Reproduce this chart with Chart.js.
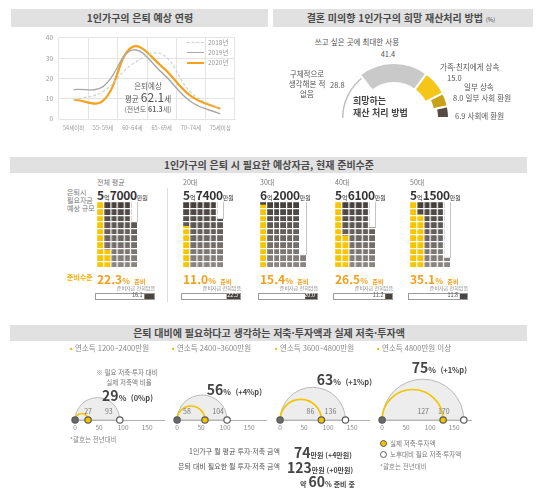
<!DOCTYPE html>
<html lang="ko">
<head>
<meta charset="utf-8">
<script src="https://cdn.jsdelivr.net/npm/chart.js@4.4.1/dist/chart.umd.min.js"></script>
<style>
  html, body { margin: 0; padding: 0; background: #fff; }
  #page { position: relative; width: 540px; height: 488px; overflow: hidden; font-family: 'Noto Sans CJK KR', 'Noto Sans', sans-serif; color: #555; }
  .t { position: absolute; line-height: 1; white-space: nowrap; }
  .w { position: absolute; }
  canvas { display: block; }
</style>
</head>
<body>
<div id="page"></div>
<script>
// 1인가구의 은퇴 예상 연령
const ageLabels = ['54세이하', '55~59세', '60~64세', '65~69세', '70~74세', '75세이상'];
const retire2018 = [9.5, 13.5, 27, 32, 13, 5];
const retire2019 = [14.5, 16, 34, 23, 8.5, 2.5];
const retire2020 = [9.5, 9, 35.5, 26, 11.3, 5];
const retireAvg = 62.1;
const retireAvgPrev = 61.3;

// 희망 재산처리 방법 (%)
const assetLabels = ['구체적으로 생각해본 적 없음', '쓰고 싶은 곳에 최대한 사용', '가족·친지에게 상속', '일부 상속 일부 사회 환원', '사회에 환원'];
const assetShare = [28.8, 41.4, 15.0, 8.0, 6.9];

// 은퇴 시 필요 예상자금 (만원), 준비수준 (%), 준비자금 전혀없음 (%)
const fundGroups = ['전체 평균', '20대', '30대', '40대', '50대'];
const fundNeed = [57000, 57400, 62000, 56100, 51500];
const fundReady = [22.3, 11.0, 15.4, 26.5, 35.1];
const fundNone = [16.1, 22.5, 20.0, 11.2, 11.8];

// 필요 저축·투자액 vs 실제 저축·투자액 (만원)
const incomeGroups = ['연소득 1200~2400만원', '연소득 2400~3600만원', '연소득 3600~4800만원', '연소득 4800만원 이상'];
const savingActual = [27, 58, 86, 127];
const savingNeed = [93, 104, 136, 170];
const savingTicks = [0, 50, 100, 150];
const savingRatio = [29, 56, 63, 75];
const ratioChange = ['0%p', '+4%p', '+1%p', '+1%p'];
const monthlySave = 74, monthlySaveChg = '+4';
const monthlyNeed = 123, monthlyNeedChg = '+0';
const readyShare = 60;

Chart.defaults.font.family = "'Noto Sans CJK KR', 'Noto Sans', sans-serif";
Chart.defaults.animation = false;
Chart.defaults.responsive = true;
Chart.defaults.maintainAspectRatio = false;
Chart.defaults.plugins.legend.display = false;
Chart.defaults.plugins.tooltip.enabled = false;

const page = document.getElementById('page');

function put(html, x, y, css, align) {
  const d = document.createElement('div');
  d.className = 't';
  d.innerHTML = html;
  d.style.cssText = `left:${x}px;top:${y}px;` + (css || '');
  const tx = align === 'c' ? '-50%' : align === 'r' ? '-100%' : '0';
  d.style.transform = `translate(${tx},-50%)`;
  page.appendChild(d);
  return d;
}
function box(x, y, w, h, css) {
  const d = document.createElement('div');
  d.className = 'w';
  d.style.cssText = `left:${x}px;top:${y}px;width:${w}px;height:${h}px;` + (css || '');
  page.appendChild(d);
  return d;
}
function makeCanvas(x, y, w, h, css) {
  const wrap = box(x, y, w, h, css);
  const c = document.createElement('canvas');
  wrap.appendChild(c);
  return c;
}

// header bars
const titleCss = 'font-size:10px;font-weight:bold;color:#4a4a4a;';
box(11, 9, 257, 18, 'background:#e1e1e1');
put('1인가구의 은퇴 예상 연령', 140, 18, titleCss, 'c');
box(273, 9, 260, 18, 'background:#e1e1e1');
put('결혼 미의향 1인가구의 희망 재산처리 방법 <span style="font-size:6px;font-weight:normal">(%)</span>', 401, 18, titleCss, 'c');
box(10, 157, 517, 16, 'background:#e1e1e1');
put('1인가구의 은퇴 시 필요한 예상자금, 현재 준비수준', 269, 165, titleCss, 'c');
box(10, 325, 517, 16, 'background:#e1e1e1');
put('은퇴 대비에 필요하다고 생각하는 저축·투자액과 실제 저축·투자액', 269, 333, titleCss, 'c');

// ---- line chart ----
new Chart(makeCanvas(30, 28, 210, 111), {
  type: 'line',
  data: {
    labels: ageLabels,
    datasets: [
      { label: '2018년', data: retire2018, borderColor: '#d0d0d0', borderDash: [3, 2], borderWidth: 1.2 },
      { label: '2019년', data: retire2019, borderColor: '#a8a8a8', borderWidth: 1.4 },
      { label: '2020년', data: retire2020, borderColor: '#f5a11c', borderWidth: 2.2 }
    ]
  },
  options: {
    layout: { padding: { top: 5, right: 5 } },
    elements: { point: { radius: 0 }, line: { tension: 0.4 } },
    scales: {
      x: {
        offset: true,
        grid: { offset: true, color: '#e4e4e4', drawTicks: false },
        border: { color: '#e4e4e4' },
        ticks: { color: '#999', font: { size: 5.5 }, padding: 6, maxRotation: 0, autoSkip: false },
        afterFit: s => { s.height = 20; }
      },
      y: {
        min: 0, max: 40,
        ticks: { stepSize: 10, color: '#999', font: { size: 6.5 }, padding: 6 },
        grid: { color: '#e4e4e4', drawTicks: false },
        border: { display: false },
        afterFit: s => { s.width = 29; }
      }
    }
  }
});
// legend
const legendCss = 'font-size:6.5px;color:#999;';
box(187, 42, 17, 0, 'border-top:1.2px dashed #cfcfcf');
put('2018년', 208, 42, legendCss);
box(187, 52, 17, 0, 'border-top:1.4px solid #a8a8a8');
put('2019년', 208, 52, legendCss);
box(187, 62, 17, 0, 'border-top:2px solid #f5a11c');
put('2020년', 208, 62, legendCss);
put('은퇴예상', 148, 86, 'font-size:7.5px;color:#666;', 'c');
put(`평균 <span style="font-size:12px">${retireAvg}</span>세`, 148, 97, 'font-size:7.5px;color:#555;', 'c');
put(`(전년도 <b>${retireAvgPrev}</b>세)`, 148, 109, 'font-size:7px;color:#666;', 'c');

// ---- half doughnut ----
const sliceThick = [1.4, 20, 20, 15, 12];
const sliceInset = [3, 0, 0, 0, 0];
const ringPlugin = {
  id: 'ring',
  beforeDatasetsDraw(chart) {
    const meta = chart.getDatasetMeta(0);
    const R = meta.controller.outerRadius;
    meta.data.forEach((arc, j) => {
      arc.outerRadius = R - sliceInset[j];
      arc.innerRadius = R - sliceInset[j] - sliceThick[j];
    });
  }
};
new Chart(makeCanvas(338, 62, 112, 57), {
  type: 'doughnut',
  data: {
    labels: assetLabels,
    datasets: [{
      data: assetShare,
      backgroundColor: ['#bdbdbd', '#c9c9c9', '#f5c518', '#c9a116', '#574c44'],
      borderColor: '#fff',
      borderWidth: [0, 2, 2, 2, 2]
    }]
  },
  options: { rotation: -90, circumference: 180 },
  plugins: [ringPlugin]
});
const dLab = 'font-size:7.5px;color:#555;';
put(assetLabels[1], 357, 42, dLab, 'c');
put(assetShare[1].toFixed(1), 388, 54, dLab, 'c');
put('구체적으로', 307, 74, dLab, 'c');
put('생각해본 적', 307, 84, dLab, 'c');
put('없음', 307, 94, dLab, 'c');
put(assetShare[0].toFixed(1), 330, 85, dLab);
put(assetLabels[2], 440, 67, dLab);
put(assetShare[2].toFixed(1), 447, 78, dLab);
put('일부 상속', 464, 87, dLab);
put(assetShare[3].toFixed(1) + ' 일부 사회 환원', 453, 98, dLab);
put(assetShare[4].toFixed(1) + ' ' + assetLabels[4], 455, 116, dLab);
put('희망하는', 353, 100, 'font-size:9px;font-weight:bold;color:#444;');
put('재산 처리 방법', 353, 112, 'font-size:9px;font-weight:bold;color:#444;');

// ---- waffles ----
const groupLeft = [97, 183, 260, 335, 410];
const sq = 6.6;
const gridTop = 202;
put('은퇴시', 67, 192, 'font-size:7px;color:#777;');
put('필요자금', 67, 200, 'font-size:7px;color:#777;');
put('예상 규모', 67, 208, 'font-size:7px;color:#777;');
put('준비수준', 67, 277, 'font-size:7px;color:#f2b400;font-weight:bold;');
box(167, 188, 0, 114, 'border-left:1px solid #ddd');

function darkFill(context) {
  const { ctx, chartArea } = context.chart;
  if (!chartArea) return '#5a544f';
  const g = ctx.createLinearGradient(0, chartArea.top, 0, chartArea.bottom);
  g.addColorStop(0, '#433d39');
  g.addColorStop(1, '#8e8985');
  return g;
}

fundGroups.forEach((name, i) => {
  const left = groupLeft[i];
  const total = fundNeed[i] / 1000;
  const ready = total * fundReady[i] / 100;
  const cols = Math.ceil(total / 10);
  const colLabels = [], yellowCol = [], darkCol = [];
  for (let c = 0; c < cols; c++) {
    const full = Math.min(Math.max(total - c * 10, 0), 10);
    const y = Math.min(Math.max(ready - c * 10, 0), 10);
    colLabels.push(String(c + 1));
    yellowCol.push(y);
    darkCol.push(full - y);
  }
  put(name, left, 182, 'font-size:7px;color:#777;');
  const eok = Math.floor(fundNeed[i] / 10000);
  const rest = fundNeed[i] % 10000;
  put(`<b style="font-size:12px">${eok}</b><span style="font-size:6px">억</span><b style="font-size:12px;letter-spacing:-0.3px">${rest}</b><span style="font-size:6px">만원</span>`, left, 193, 'color:#333;');

  new Chart(makeCanvas(left, gridTop, cols * sq, 10 * sq), {
    type: 'bar',
    data: {
      labels: colLabels,
      datasets: [
        { data: yellowCol, backgroundColor: '#f7c600' },
        { data: darkCol, backgroundColor: darkFill }
      ]
    },
    options: {
      barPercentage: 1, categoryPercentage: 1,
      scales: {
        x: {
          stacked: true,
          grid: { offset: true, color: '#fff', lineWidth: 1.2, z: 1, drawTicks: false },
          border: { display: false }, ticks: { display: false },
          afterFit: s => { s.height = 0; }
        },
        y: {
          stacked: true, min: 0, max: 10,
          grid: { color: '#fff', lineWidth: 1.2, z: 1, drawTicks: false },
          border: { display: false }, ticks: { display: false, stepSize: 1 },
          afterFit: s => { s.width = 0; }
        }
      }
    }
  });
  if (cols * 10 - total >= 2) {
    const emptyTop = gridTop + 10 * sq - (total - (cols - 1) * 10) * sq;
    box(left + cols * sq, gridTop, 0, emptyTop - gridTop, 'border-left:1px solid #c4c4c4');
  }

  put(`<b style="font-size:12px">${fundReady[i].toFixed(1)}</b><b style="font-size:8px">%</b> <b style="font-size:6px">준비</b>`, left, 277, 'color:#f49e1b;');
  put('준비자금 전혀없음', left + 58, 287, 'font-size:5px;color:#888;', 'r');
  const bw = box(left - 2, 293, 58, 5, 'border:1px solid #9a9a9a');
  const c = document.createElement('canvas');
  bw.appendChild(c);
  new Chart(c, {
    type: 'bar',
    data: { labels: [''], datasets: [{ data: [fundNone[i]], backgroundColor: '#4a4440' }] },
    options: {
      indexAxis: 'y', barPercentage: 1, categoryPercentage: 1,
      scales: { x: { min: 0, max: 100, reverse: true, display: false }, y: { display: false } }
    }
  });
  const darkW = 58 * fundNone[i] / 100;
  if (fundNone[i] >= 20) {
    put(fundNone[i].toFixed(1), left + 55, 296, 'font-size:5.5px;color:#fff;', 'r');
  } else {
    put(fundNone[i].toFixed(1), left + 56 - darkW - 1, 296, 'font-size:5.5px;color:#555;', 'r');
  }
});

// ---- saving half circles ----
const halfOrigin = [70, 172, 275, 377];
const k = 0.535;
const halfLabelShift = [[0, -11], [-18, -9], [-11, -15], [-20, -20]];
const ratioPos = [[153, 394], [262, 388], [372, 378], [467, 366]];
const halfPlugin = {
  id: 'halves',
  beforeDatasetsDraw(chart, args, opts) {
    const { ctx, scales: { x, y } } = chart;
    const i = opts.idx;
    const y0 = y.getPixelForValue(0);
    const x0 = x.getPixelForValue(0);
    const xn = x.getPixelForValue(savingNeed[i]);
    const xa = x.getPixelForValue(savingActual[i]);
    ctx.save();
    ctx.beginPath();
    ctx.arc((x0 + xn) / 2, y0, (xn - x0) / 2, Math.PI, 0);
    ctx.closePath();
    ctx.fillStyle = '#ededed';
    ctx.fill();
    ctx.strokeStyle = '#b9b9b9';
    ctx.lineWidth = 1;
    ctx.stroke();
    ctx.beginPath();
    ctx.arc((x0 + xa) / 2, y0, (xa - x0) / 2, Math.PI, 0);
    ctx.strokeStyle = '#f3c400';
    ctx.lineWidth = 1.6;
    ctx.stroke();
    ctx.fillStyle = '#777';
    ctx.font = "7px 'Noto Sans CJK KR'";
    ctx.textAlign = 'center';
    ctx.textBaseline = 'middle';
    ctx.fillText(String(savingActual[i]), xa + halfLabelShift[i][0], y0 - 9);
    ctx.fillText(String(savingNeed[i]), xn + halfLabelShift[i][1], y0 - 9);
    ctx.restore();
  }
};

incomeGroups.forEach((name, i) => {
  const ox = halfOrigin[i];
  put('•', ox + 1, 348, 'font-size:8px;color:#f2b400;', 'c');
  put(name, ox + 5, 348, 'font-size:7.5px;color:#888;');
  new Chart(makeCanvas(ox - 6 * k, 360, 191 * k, 74), {
    type: 'scatter',
    data: {
      datasets: [{
        data: [{ x: 0, y: 0 }, { x: savingActual[i], y: 0 }, { x: savingNeed[i], y: 0 }],
        pointBackgroundColor: ['#6b6b6b', '#f4c300', '#fff'],
        pointBorderColor: '#5a5a5a', pointBorderWidth: 1.2, pointRadius: 3.2,
        clip: false
      }]
    },
    options: {
      scales: {
        x: {
          type: 'linear', min: -6, max: 185,
          afterBuildTicks: s => { s.ticks = savingTicks.map(v => ({ value: v })); },
          ticks: { color: '#8a8a8a', font: { size: 6.5 }, padding: 4, autoSkip: false, maxRotation: 0 },
          grid: { display: false, drawTicks: false },
          border: { color: '#b0b0b0' },
          afterFit: s => { s.height = 14; }
        },
        y: { min: 0, max: 110, display: false }
      },
      plugins: { halves: { idx: i } }
    },
    plugins: [halfPlugin]
  });
  put(`<b style="font-size:14px">${savingRatio[i]}</b><b style="font-size:8px">%</b> <b style="font-size:7.5px">(${ratioChange[i]})</b>`, ratioPos[i][0], ratioPos[i][1], 'color:#444;', 'r');
});

put('※ 필요 저축·투자 대비', 127, 372, 'font-size:6.5px;color:#777;', 'c');
put('실제 저축액 비율', 129, 382, 'font-size:6.5px;color:#777;', 'c');
put('*괄호는 전년대비', 70, 439, 'font-size:6.5px;color:#888;');

const sumCss = 'font-size:7px;color:#555;';
put('1인가구 월 평균 투자·저축 금액', 280, 451, sumCss, 'r');
put(`<b style="font-size:14px">${monthlySave}</b><b style="font-size:7px">만원 (${monthlySaveChg}만원)</b>`, 294, 451, 'color:#444;');
put('은퇴 대비 필요한 월 투자·저축 금액', 280, 466, sumCss, 'r');
put(`<b style="font-size:14px">${monthlyNeed}</b><b style="font-size:7px">만원 (${monthlyNeedChg}만원)</b>`, 287, 466, 'color:#444;');
put(`<b style="font-size:7px">약 </b><b style="font-size:14px">${readyShare}</b><b style="font-size:7px">% 준비 중</b>`, 300, 480, 'color:#444;');

box(380, 440, 5, 5, 'border-radius:50%;background:#f4c300;border:1.2px solid #5a5a5a');
put('실제 저축·투자액', 390, 443, 'font-size:6.5px;color:#777;');
box(380, 451, 5, 5, 'border-radius:50%;background:#fff;border:1.2px solid #5a5a5a');
put('노후대비 필요 저축·투자액', 390, 454, 'font-size:6.5px;color:#777;');
put('*괄호는 전년대비', 380, 466, 'font-size:6.5px;color:#888;');
</script>
</body>
</html>
